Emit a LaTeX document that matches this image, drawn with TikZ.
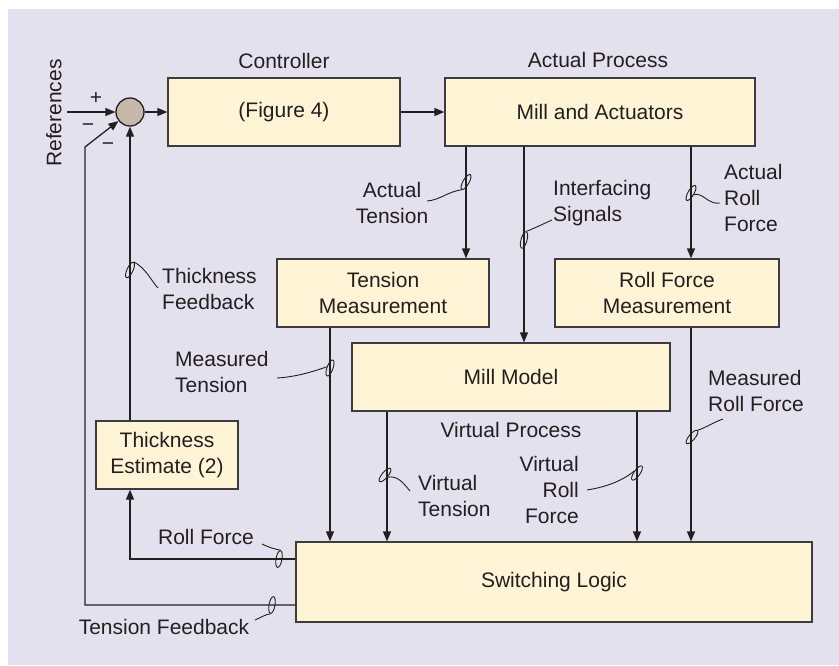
\documentclass[tikz,border=0pt]{standalone}
\usepackage{fontspec}
\setmainfont{Liberation Sans}
\usetikzlibrary{arrows.meta,shapes.geometric,calc}
\definecolor{bgc}{RGB}{228,225,239}
\definecolor{boxc}{RGB}{255,245,214}
\definecolor{sumc}{RGB}{200,184,170}
\definecolor{inkc}{RGB}{35,31,32}
\definecolor{edgec}{RGB}{60,60,60}
\begin{document}
\begin{tikzpicture}[x=1pt,y=-1pt,
  every node/.style={font=\fontsize{21}{26}\selectfont, text=inkc},
  blk/.style={draw=edgec, fill=boxc, line width=1.3pt, inner sep=0pt, align=center},
  arr/.style={draw=inkc, line width=1.3pt, -{Triangle[length=10pt,width=8pt]}},
  wire/.style={draw=inkc, line width=1.3pt},
  mk/.style={draw=inkc, ellipse, line width=0.9pt, minimum width=6pt, minimum height=17pt, inner sep=0pt},
  lead/.style={draw=inkc, line width=0.9pt},
  lbl/.style={inner sep=0pt},
]
\useasboundingbox (0,0) rectangle (839,665);
\fill[white] (0,0) rectangle (839,665);
\fill[bgc] (8,9) rectangle (839,665);

% blocks
\node[blk, minimum width=232pt, minimum height=68pt] (ctrl) at (284,112) {(Figure 4)};
\node[blk, minimum width=310pt, minimum height=68pt] (mill) at (600,112) {Mill and Actuators};
\node[draw=inkc, fill=sumc, circle, line width=1.3pt, minimum size=28pt, inner sep=0pt] (sum) at (130,112) {};
\node[blk, minimum width=142pt, minimum height=68pt] (te) at (167,455) {Thickness\\Estimate (2)};
\node[blk, minimum width=212pt, minimum height=68pt] (tm) at (383,293) {Tension\\Measurement};
\node[blk, minimum width=224pt, minimum height=68pt] (rfm) at (667,293) {Roll Force\\Measurement};
\node[blk, minimum width=318pt, minimum height=68pt] (mm) at (511,377) {Mill Model};
\node[blk, minimum width=516pt, minimum height=80pt] (sl) at (554,582) {Switching Logic};

% titles
\node[lbl] (tctrl) at (284,61) {Controller};
\node[lbl] (tact) at (598,60) {Actual Process};
\node[lbl] (tvirt) at (511,430) {Virtual Process};
\node[lbl, rotate=90] (tref) at (54,113) {References};
\node[lbl] (tplus) at (96,98) {+};
\node[lbl] (tmin1) at (88,128) {−};
\node[lbl] (tmin2) at (108,147) {−};

% helper coordinates
\coordinate (refin) at (67,112);
\coordinate (xAT) at (466,0);
\coordinate (xIS) at (524,0);
\coordinate (xAR) at (691,0);
\coordinate (xMT) at (330,0);
\coordinate (xVT) at (387,0);
\coordinate (xVR) at (637,0);
\coordinate (rfY) at (0,559);
\coordinate (tfBottom) at (85,605);
\coordinate (tfCorner) at (85,147);

% connectors
\draw[arr] (refin) -- (sum.west);
\draw[arr] (sum.east) -- (ctrl.west);
\draw[arr] (ctrl.east) -- (mill.west);
\draw[arr] (mill.south -| xAT) -- (tm.north -| xAT);
\draw[arr] (mill.south -| xIS) -- (mm.north -| xIS);
\draw[arr] (mill.south -| xAR) -- (rfm.north -| xAR);
\draw[arr] (tm.south -| xMT) -- (sl.north -| xMT);
\draw[arr] (mm.south -| xVT) -- (sl.north -| xVT);
\draw[arr] (mm.south -| xVR) -- (sl.north -| xVR);
\draw[arr] (rfm.south -| xAR) -- (sl.north -| xAR);
\draw[arr] (te.north -| sum) -- (sum.south);
\draw[arr] (sl.west |- rfY) -| (te.south -| sum);
\draw[arr] (sl.west |- tfBottom) -- (tfBottom) -- (tfCorner) -- (sum);

% markers
\node[mk, rotate=-30] (mAT) at (466,182) {};
\node[mk, rotate=-15] (mIS) at (524,240) {};
\node[mk, rotate=-30] (mARF) at (691,193) {};
\node[mk, rotate=-25] (mTF) at (130,270) {};
\node[mk, rotate=-20] (mMT) at (330,368) {};
\node[mk, rotate=-10] (mRF) at (279,559) {};
\node[mk, rotate=-10] (mTFb) at (272,605) {};
\node[mk, rotate=-40] (mMRF) at (692,437) {};
\node[mk, rotate=-40] (mVT) at (385,475) {};
\node[mk, rotate=-35] (mVRF) at (637,473) {};

% labels
\node[lbl, align=center] (lAT) at (392,203) {Actual\\Tension};
\node[lbl, align=left, anchor=west] (lIS) at (553,203) {Interfacing\\Signals};
\node[lbl, align=left, anchor=west] (lARF) at (724,198) {Actual\\Roll\\Force};
\node[lbl, align=left, anchor=west] (lTF) at (162,289) {Thickness\\Feedback};
\node[lbl, align=left, anchor=west] (lMT) at (175,372) {Measured\\Tension};
\node[lbl] (lRF) at (206,537) {Roll Force};
\node[lbl] (lTFb) at (164,627) {Tension Feedback};
\node[lbl, align=left, anchor=west] (lMRF) at (708,391) {Measured\\Roll Force};
\node[lbl, align=left, anchor=west] (lVT) at (418,496) {Virtual\\Tension};
\node[lbl, align=right, anchor=east] (lVRF) at (579,490) {Virtual\\Roll\\Force};

% leader lines
\coordinate (eAT) at (427,201);
\coordinate (eIS) at (552,220);
\coordinate (eARF) at (720,203);
\coordinate (eTF) at (158,288);
\coordinate (eMT) at (277,378);
\coordinate (eRF) at (262,544);
\coordinate (eTFb) at (255,620);
\coordinate (eMRF) at (723,419);
\coordinate (eVT) at (410,491);
\coordinate (eVRF) at (587,490);
\draw[lead] (mAT.south) .. controls (447,192) and (440,200) .. (eAT);
\draw[lead] (mIS.north) .. controls (535,228) and (543,224) .. (eIS);
\draw[lead] (mARF.east) .. controls (703,192) and (708,205) .. (eARF);
\draw[lead] (mTF.north) .. controls (146,268) and (152,282) .. (eTF);
\draw[lead] (mMT.west) .. controls (312,372) and (295,377) .. (eMT);
\draw[lead] (mRF.north) .. controls (274,549) and (268,547) .. (eRF);
\draw[lead] (mTFb.south) .. controls (266,614) and (260,618) .. (eTFb);
\draw[lead] (mMRF.north) .. controls (705,428) and (712,423) .. (eMRF);
\draw[lead] (mVT.east) .. controls (398,475) and (404,484) .. (eVT);
\draw[lead] (mVRF.west) .. controls (620,483) and (600,488) .. (eVRF);
\end{tikzpicture}
\end{document}
